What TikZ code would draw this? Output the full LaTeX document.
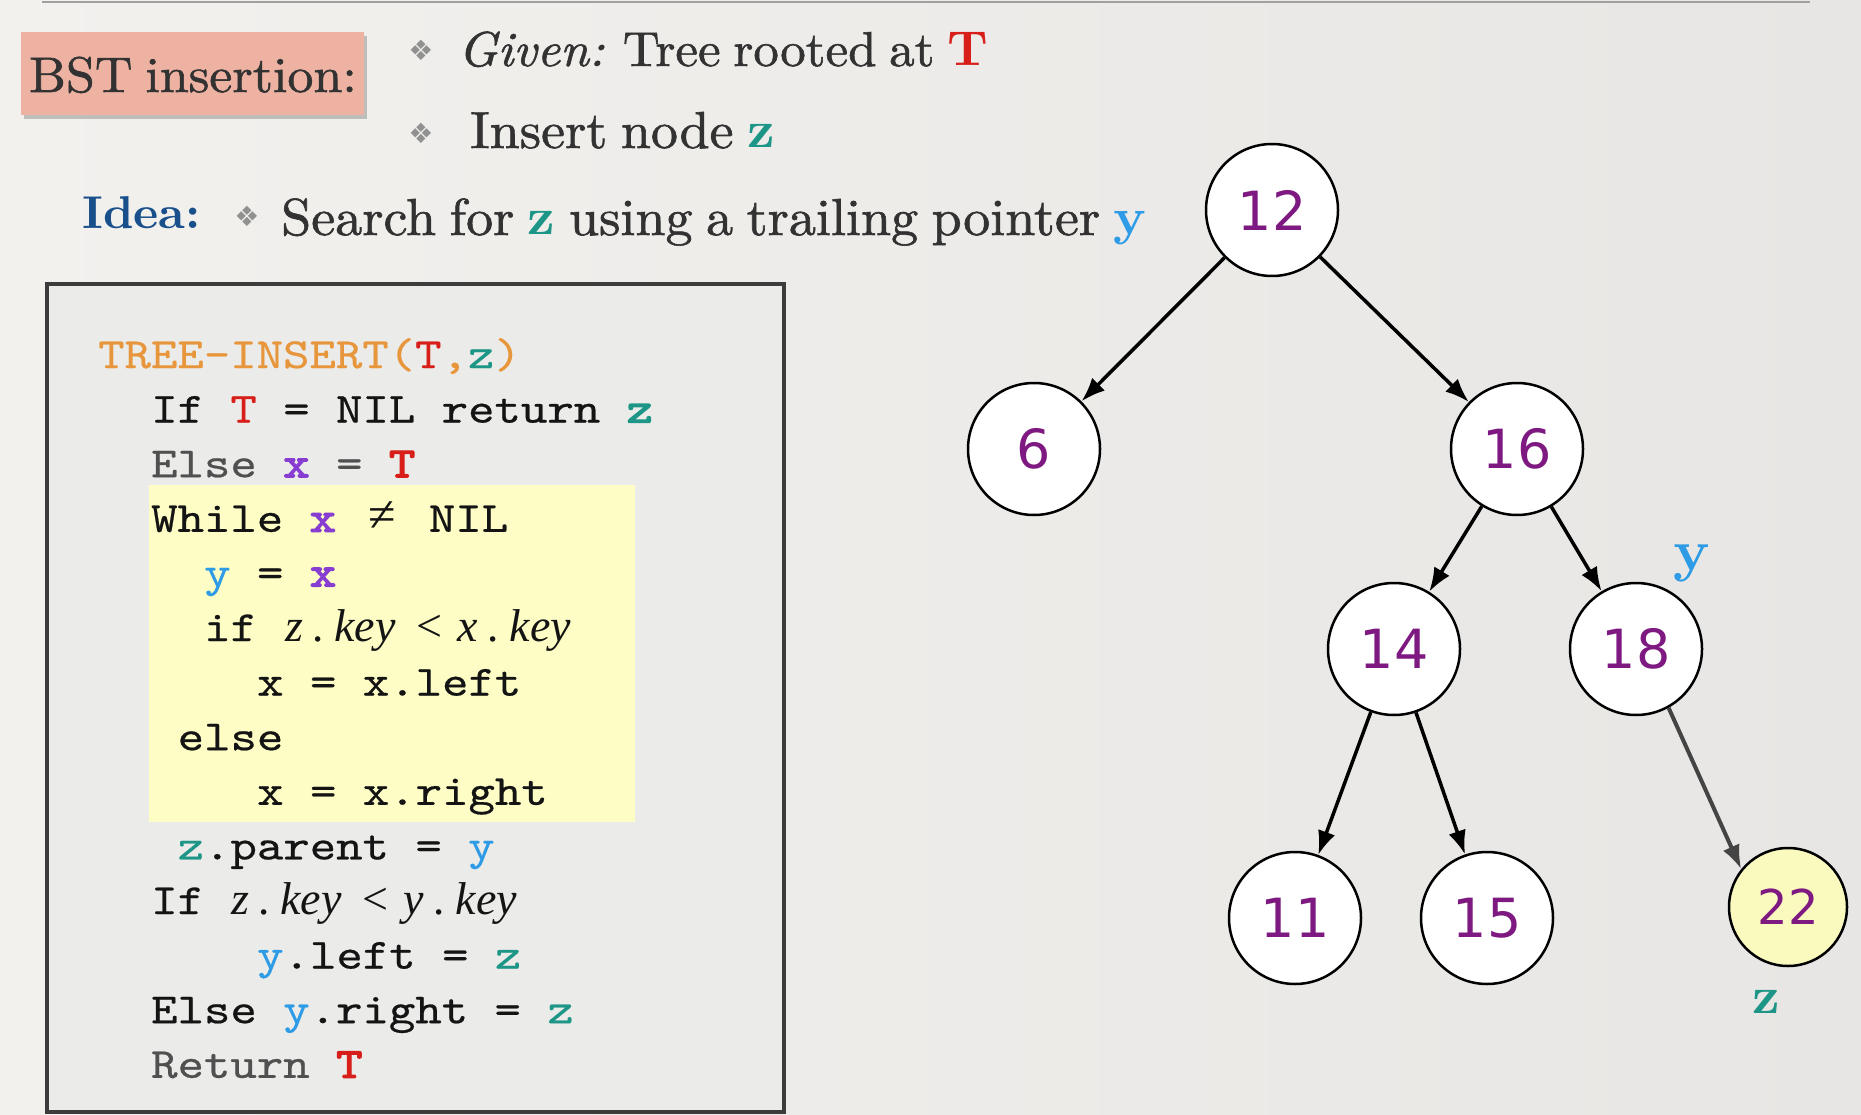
\documentclass[tikz,border=0pt]{standalone}
\usepackage{fontspec}
\usetikzlibrary{arrows.meta}
\newfontfamily\numfont{DejaVu Sans}
\newfontfamily\symfont{DejaVu Sans}
\newfontfamily\serifont{lmroman10-regular.otf}[FakeStretch=1.04,FakeBold=1.2]
\newfontfamily\serifit{lmroman10-italic.otf}[FakeStretch=1.04,FakeBold=1.2]
\newfontfamily\serifbf{lmroman10-bold.otf}[FakeStretch=1.04]
\newfontfamily\codefont{lmmono10-regular.otf}[FakeStretch=1.17,FakeBold=0.5]
\newfontfamily\codeboldfont{lmmono10-regular.otf}[FakeStretch=1.17,FakeBold=3]
\newfontfamily\tmsfont{Liberation Serif}
\newfontfamily\tmsit{Liberation Serif Italic}
\definecolor{bgL}{RGB}{242,241,238}
\definecolor{bgR}{RGB}{231,230,228}
\definecolor{salmon}{RGB}{237,178,162}
\definecolor{tealz}{RGB}{30,150,135}
\definecolor{bluey}{RGB}{45,155,230}
\definecolor{redT}{RGB}{215,30,25}
\definecolor{purx}{RGB}{135,60,210}
\definecolor{orng}{RGB}{232,150,60}
\definecolor{ideablue}{RGB}{25,80,140}
\definecolor{numpurple}{RGB}{125,25,128}
\definecolor{txtgray}{RGB}{50,50,50}
\definecolor{codegray}{RGB}{80,80,80}
\definecolor{codeblack}{RGB}{20,20,20}
\definecolor{hlyellow}{RGB}{253,253,197}
\definecolor{nodeyellow}{RGB}{250,249,190}
\definecolor{boxgray}{RGB}{60,60,60}
\definecolor{boxfill}{RGB}{235,235,233}
\definecolor{bulletgray}{RGB}{145,145,145}
\definecolor{linegray}{RGB}{160,160,160}
\definecolor{edgegray}{RGB}{68,68,68}
\newcommand\kT{{\codeboldfont\color{redT}T}}
\newcommand\kx{{\codeboldfont\color{purx}x}}
\newcommand\ky{{\color{bluey}y}}
\newcommand\kz{{\color{tealz}z}}
\newcommand\kzb{{\codeboldfont\color{tealz}z}}
\newcommand\tightsp{\spaceskip=0.26em\relax}
\begin{document}
\begin{tikzpicture}[x=1pt,y=-1pt,
  serif/.style={anchor=base west, inner sep=0, text=txtgray, font=\serifont\fontsize{52}{60}\selectfont},
  bullet/.style={text=bulletgray, inner sep=0, font=\symfont\fontsize{28}{28}\selectfont},
  code/.style={anchor=base west, inner sep=0, text=codeblack, font=\codefont\fontsize{43}{43}\selectfont},
  mathtxt/.style={anchor=base west, inner sep=0, text=codeblack, font=\tmsit\fontsize{46}{46}\selectfont},
  tn/.style={circle, draw=black, line width=2.5pt, fill=white, minimum size=132pt, inner sep=0,
    text=numpurple, font=\numfont\fontsize{54}{54}\selectfont},
  edge/.style={line width=3.5pt, -{Latex[length=24pt,width=18pt]}},
  lab/.style={inner sep=0, font=\serifbf\fontsize{58}{58}\selectfont}]
\useasboundingbox (0,0) rectangle (1861,1115);
\shade[left color=bgL, right color=bgR] (0,0) rectangle (1861,1115);
\draw[linegray, line width=1.5pt] (42,2) -- (1810,2);
% title box
\fill[black!45, opacity=0.5] (24,36) rectangle (367,119);
\fill[salmon] (21,32) rectangle (364,115);
\node[anchor=base, inner sep=0, text=txtgray, font=\serifont\fontsize{50}{60}\selectfont] (bsttxt) at (193,92) {\tightsp BST insertion:};
% bullets
\node[bullet] (b1) at (421,50) {❖};
\node[serif, font=\serifont\fontsize{49}{60}\selectfont] (given) at (458,66) {\tightsp{\serifit Given:} Tree rooted at {\serifbf\color{redT}T}};
\node[bullet] (b2) at (421,133) {❖};
\node[serif] (insert) at (470,148) {\tightsp Insert node {\serifbf\color{tealz}z}};
\node[anchor=base west, inner sep=0, text=ideablue, font=\serifbf\fontsize{46}{60}\selectfont] (idea) at (82,229) {Idea:};
\node[bullet] (b3) at (247,216) {❖};
\node[serif] (search) at (281,235) {\tightsp Search for {\serifbf\color{tealz}z} using a trailing pointer {\serifbf\color{bluey}y}};
% code box
\draw[line width=4pt, draw=boxgray, fill=boxfill] (47,284) rectangle (784,1112);
\fill[hlyellow] (149,485) rectangle (635,822);
\node[code] (c1) at (98,368) {{\color{orng}TREE-INSERT(}{\color{redT}T}{\color{orng},}\kz{\color{orng})}};
\node[code] (c2) at (151,422.6) {If {\color{redT}T} = NIL return \kzb};
\node[code] (c3) at (151,477.2) {{\color{codegray}Else} \kx{} {\color{codegray}=} \kT};
\node[code] (c4) at (151,531.8) {While \kx{} \makebox[40pt]{\tmsfont\fontsize{50}{50}\selectfont ≠} NIL};
\node[code] (c5) at (204,586.4) {\ky{} = \kx};
\node[code] (c6) at (204,641) {if};
\node[mathtxt] (c6m) at (285,641) {z\hspace{10pt}.\hspace{10pt}key\hspace{21pt}{\tmsfont<}\hspace{15pt}x\hspace{10pt}.\hspace{10pt}key};
\node[code] (c7) at (257,695.6) {x = x.left};
\node[code] (c8) at (177.5,750.2) {else};
\node[code] (c9) at (257,804.8) {x = x.right};
\node[code] (c10) at (177.5,859.4) {\kz.parent = \ky};
\node[code] (c11) at (151,914) {If};
\node[mathtxt] (c11m) at (231,914) {z\hspace{10pt}.\hspace{10pt}key\hspace{21pt}{\tmsfont<}\hspace{15pt}y\hspace{10pt}.\hspace{10pt}key};
\node[code] (c12) at (257,968.6) {\ky.left = \kz};
\node[code] (c13) at (151,1023.2) {Else \ky.right = \kz};
\node[code] (c14) at (151,1077.8) {{\color{codegray}Return} \kT};
% tree
\node[tn] (n12) at (1272,210) {12};
\node[tn] (n6) at (1034,449) {6};
\node[tn] (n16) at (1517,449) {16};
\node[tn] (n14) at (1394,649) {14};
\node[tn] (n18) at (1636,649) {18};
\node[tn] (n11) at (1295,918) {11};
\node[tn] (n15) at (1487,918) {15};
\node[tn, fill=nodeyellow, minimum size=118pt, font=\numfont\fontsize{48}{48}\selectfont] (n22) at (1788,907) {22};
\draw[edge] (n12) -- (n6);
\draw[edge] (n12) -- (n16);
\draw[edge] (n16) -- (n14);
\draw[edge] (n16) -- (n18);
\draw[edge] (n14) -- (n11);
\draw[edge] (n14) -- (n15);
\draw[edge, draw=edgegray, fill=edgegray, line width=4pt] (n18.-61) -- (n22.141);
\node[lab, text=bluey] (ylab) at (1692,563) {y};
\node[lab, text=tealz, font=\serifbf\fontsize{52}{52}\selectfont] (zlab) at (1766,1002) {z};
\end{tikzpicture}
\end{document}
